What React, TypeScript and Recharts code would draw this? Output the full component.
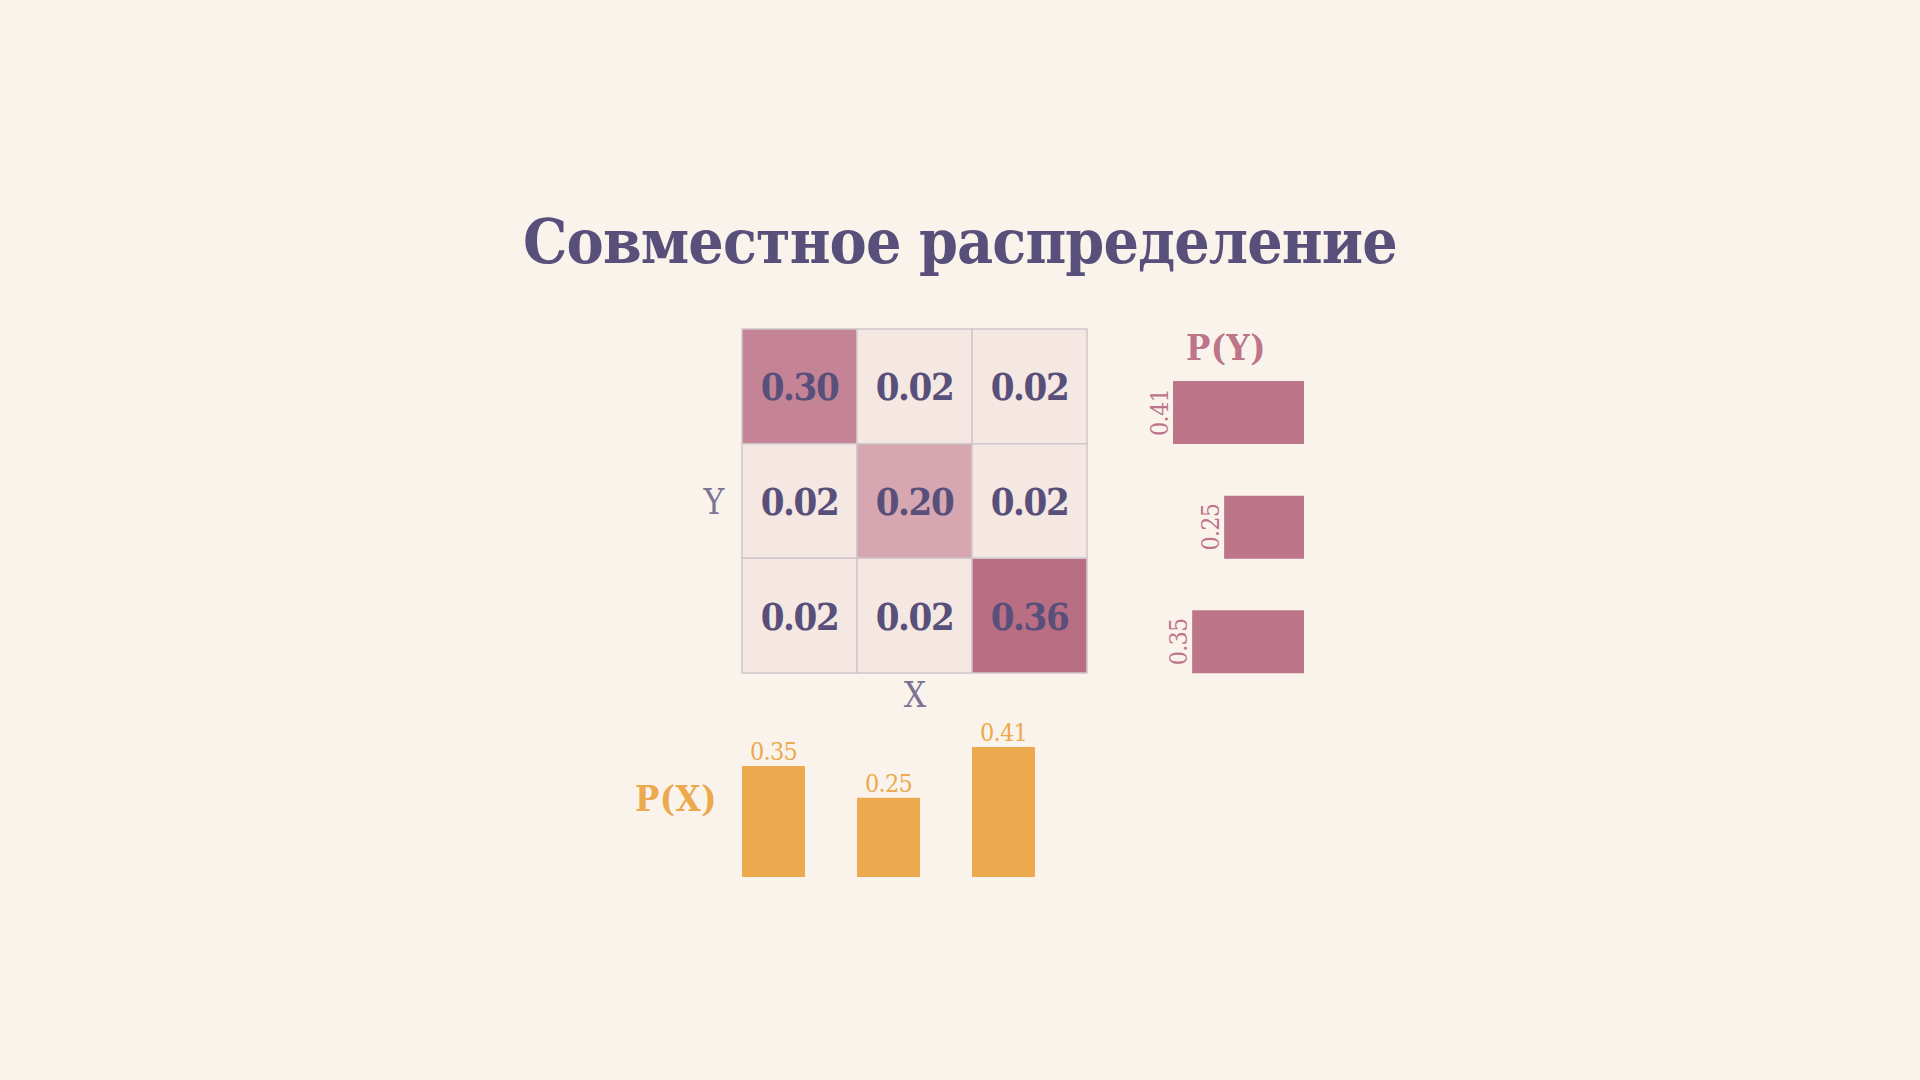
import React from 'react';
import { ScatterChart, Scatter, XAxis, YAxis, ReferenceArea, BarChart, Bar, LabelList } from 'recharts';

const title = 'Совместное распределение';
const xCategories = ['x1', 'x2', 'x3'];
const yCategories = ['y1', 'y2', 'y3'];
const jointRow1 = [0.30, 0.02, 0.02];
const jointRow2 = [0.02, 0.20, 0.02];
const jointRow3 = [0.02, 0.02, 0.36];
const marginalX = [0.35, 0.25, 0.41];
const marginalY = [0.41, 0.25, 0.35];

const BG = '#FAF3EC';
const HEAT = '#BA6E84';
const INK = '#58507A';
const AXIS_INK = '#7D7393';
const ORANGE = '#ECA94D';
const PINK = '#BC7589';
const GRID = '#D0C6CB';
const FONT = "'DejaVu Serif Condensed', 'DejaVu Serif', serif";

const jointRows = [jointRow1, jointRow2, jointRow3];
const maxJoint = Math.max(...jointRows.flat());

function hex(c: string) {
  return [1, 3, 5].map((i) => parseInt(c.slice(i, i + 2), 16));
}
function mix(a: string, b: string, t: number) {
  const A = hex(a);
  const B = hex(b);
  const r = A.map((v, i) => Math.round(v + (B[i] - v) * t));
  return `rgb(${r[0]},${r[1]},${r[2]})`;
}
function heatColor(v: number) {
  return mix(BG, HEAT, 0.03 + 0.97 * (v / maxJoint));
}

const cells = jointRows.flatMap((row, r) =>
  row.map((v, c) => ({ x: c + 0.5, y: r + 0.5, col: c, row: r, v, xc: xCategories[c], yc: yCategories[r] }))
);

const pxData = xCategories.map((c, i) => ({ name: c, p: marginalX[i] }));
const pyData = yCategories.map((c, i) => ({ name: c, p: marginalY[i] }));

const CellText = (props: any) => {
  const { cx, cy, payload } = props;
  return (
    <text x={cx} y={cy} dy="0.37em" textAnchor="middle" fill={INK} fontSize={38} fontWeight="bold" letterSpacing={-1.4}
      style={{ fontFamily: FONT, fontStretch: 'condensed' }}>
      {payload.v.toFixed(2)}
    </text>
  );
};

const PxLabel = (props: any) => {
  const { x, y, width, value } = props;
  return (
    <text x={x + width / 2} y={y - 6} textAnchor="middle" fill={ORANGE} fontSize={25} letterSpacing={-0.8}
      style={{ fontFamily: FONT, fontStretch: 'condensed' }}>
      {Number(value).toFixed(2)}
    </text>
  );
};

const PyLabel = (props: any) => {
  const { x, y, width, height, value } = props;
  const left = Math.min(x, x + width);
  const cy = y + height / 2;
  const lx = left - 5;
  return (
    <text x={lx} y={cy} textAnchor="middle" fill={PINK} fontSize={25} letterSpacing={-0.8} transform={`rotate(-90 ${lx} ${cy})`}
      style={{ fontFamily: FONT, fontStretch: 'condensed' }}>
      {Number(value).toFixed(2)}
    </text>
  );
};

export default function App() {
  return (
    <div style={{ position: 'fixed', left: 0, top: 0, width: 1920, height: 1080, background: BG, overflow: 'hidden' }}>
      {/* Heatmap */}
      <div style={{ position: 'absolute', left: 732, top: 319 }}>
        <ScatterChart width={365} height={364} margin={{ top: 10, right: 10, bottom: 10, left: 10 }}>
          <XAxis type="number" dataKey="x" domain={[0, 3]} hide />
          <YAxis type="number" dataKey="y" domain={[0, 3]} reversed hide />
          {cells.map((c) => (
            <ReferenceArea key={`${c.row}-${c.col}`} x1={c.col} x2={c.col + 1} y1={c.row} y2={c.row + 1}
              fill={heatColor(c.v)} fillOpacity={1} stroke={GRID} strokeWidth={1.5} ifOverflow="visible" />
          ))}
          <Scatter data={cells} shape={CellText} isAnimationActive={false} />
        </ScatterChart>
      </div>

      {/* P(X) */}
      <div style={{ position: 'absolute', left: 716, top: 707 }}>
        <BarChart width={345} height={180} data={pxData} margin={{ top: 40, right: 0, bottom: 10, left: 0 }} barSize={63}>
          <XAxis dataKey="name" hide />
          <YAxis domain={[0, 0.41]} hide />
          <Bar dataKey="p" fill={ORANGE} isAnimationActive={false}>
            <LabelList dataKey="p" content={PxLabel} />
          </Bar>
        </BarChart>
      </div>

      {/* P(Y) */}
      <div style={{ position: 'absolute', left: 1143, top: 355 }}>
        <BarChart layout="vertical" width={171} height={344} data={pyData} margin={{ top: 0, right: 10, bottom: 0, left: 30 }} barSize={63}>
          <XAxis type="number" domain={[0, 0.41]} reversed hide />
          <YAxis type="category" dataKey="name" hide />
          <Bar dataKey="p" fill={PINK} isAnimationActive={false}>
            <LabelList dataKey="p" content={PyLabel} />
          </Bar>
        </BarChart>
      </div>

      {/* Text overlay */}
      <svg width={1920} height={1080} style={{ position: 'absolute', left: 0, top: 0, pointerEvents: 'none' }}>
        <g style={{ fontFamily: FONT, fontStretch: 'condensed' }}>
          <text x={960} y={263} textAnchor="middle" fill={INK} fontSize={62} fontWeight="bold" letterSpacing={-0.9}>{title}</text>
          <text x={676} y={811} textAnchor="middle" fill={ORANGE} fontSize={36} fontWeight="bold" letterSpacing={0.5}>P(X)</text>
          <text x={1226} y={360} textAnchor="middle" fill={PINK} fontSize={36} fontWeight="bold" letterSpacing={0.5}>P(Y)</text>
          <text x={714} y={514} textAnchor="middle" fill={AXIS_INK} fontSize={35}>Y</text>
          <text x={915} y={707} textAnchor="middle" fill={AXIS_INK} fontSize={35}>X</text>
        </g>
      </svg>
    </div>
  );
}
